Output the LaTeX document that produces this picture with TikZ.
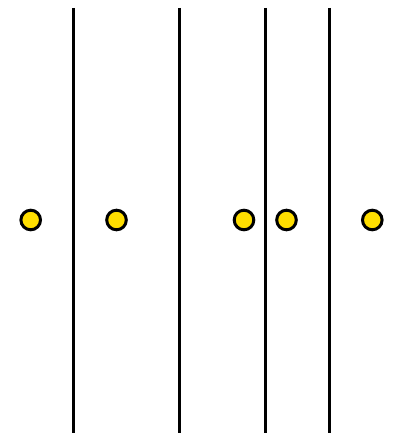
\documentclass[tikz,border=0pt]{standalone}
\usepackage{tikz}
\definecolor{dotyellow}{RGB}{255,222,0}
\tikzset{
  wall/.style={draw=black, line width=3pt},
  dot/.style={
    circle,
    draw=black,
    line width=3pt,
    fill=dotyellow,
    minimum size=19.6pt,
    inner sep=0pt
  }
}
\begin{document}
\begin{tikzpicture}[x=1pt,y=1pt]
        \useasboundingbox (0,0) rectangle (392,433);
        \coordinate (w1t) at (73.3,425);
        \coordinate (w1b) at (73.3,0);
        \coordinate (w2t) at (179.5,425);
        \coordinate (w2b) at (179.5,0);
        \coordinate (w3t) at (265,425);
        \coordinate (w3b) at (265,0);
        \coordinate (w4t) at (329.3,425);
        \coordinate (w4b) at (329.3,0);
        \draw[wall] (w1t) -- (w1b);
        \draw[wall] (w2t) -- (w2b);
        \draw[wall] (w3t) -- (w3b);
        \draw[wall] (w4t) -- (w4b);
        \node[dot] (p1) at (30.7,213) {};
        \node[dot] (p2) at (116.5,213) {};
        \node[dot] (p3) at (244,213) {};
        \node[dot] (p4) at (286.5,213) {};
        \node[dot] (p5) at (372.3,213) {};
      \end{tikzpicture}
\end{document}
